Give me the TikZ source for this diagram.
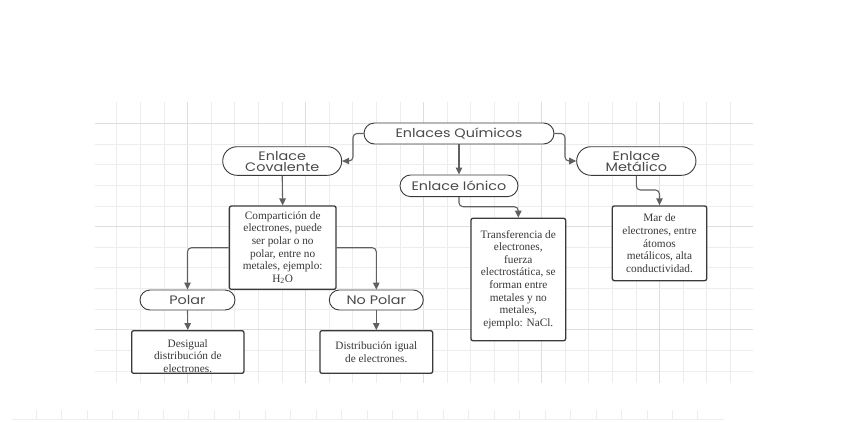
\documentclass[tikz,border=0pt]{standalone}
\usepackage{fontspec}
\setmainfont{Liberation Serif}
\newfontfamily\pillfont[FakeStretch=1.17]{Poppins}
\usetikzlibrary{arrows.meta}
\definecolor{gridc}{HTML}{EDEDED}
\definecolor{gridd}{HTML}{DEDEDE}
\definecolor{linec}{HTML}{606060}
\definecolor{boxc}{HTML}{3A3A3A}
\definecolor{pilltext}{HTML}{4A4A4A}
\definecolor{boxtextc}{HTML}{383838}
\tikzset{
  gridline/.style={gridc, line width=0.6pt},
  gridbold/.style={gridd, line width=0.7pt},
  pill/.style={draw=boxc, line width=0.9pt, fill=white, inner sep=0pt,
     font=\pillfont\fontsize{12.3}{11}\selectfont, text=pilltext, align=center},
  box/.style={draw=boxc, line width=1.3pt, fill=white, rounded corners=2pt, inner sep=0pt,
     font=\fontsize{11.3}{12.6}\selectfont, text=boxtextc, align=center},
  boxtext/.style={inner sep=0pt, font=\fontsize{11.3}{12.6}\selectfont, text=boxtextc, align=center},
  conn/.style={linec, line width=1.1pt, rounded corners=4pt,
     -{Triangle[length=7pt,width=6.5pt]}},
}
\begin{document}
\begin{tikzpicture}[x=1pt,y=-1pt]
\useasboundingbox[fill=white] (0,0) rectangle (862,421);
% grid
\foreach \k in {0,...,26}{
  \pgfmathsetmacro\xx{116.7+23.6*\k}
  \pgfmathtruncatemacro\mm{mod(\k,5)}
  \ifnum\mm=3 \draw[gridbold] (\xx,102) -- (\xx,383);
  \else \draw[gridline] (\xx,102) -- (\xx,383); \fi
}
\foreach \k in {0,...,12}{
  \pgfmathsetmacro\yy{123.3+20.63*\k}
  \pgfmathtruncatemacro\mm{mod(\k,5)}
  \ifnum\mm=0 \draw[gridbold] (95,\yy) -- (753,\yy);
  \else \draw[gridline] (95,\yy) -- (753,\yy); \fi
}
% bottom ruler
\draw[gridline] (12,419) -- (724,419);
\foreach \k in {0,...,26}{
  \pgfmathsetmacro\xx{36+25.45*\k}
  \draw[gridline] (\xx,410) -- (\xx,419);
}
% nodes
\node[pill, minimum width=190pt, minimum height=21pt, rounded corners=10.5pt] (eq) at (459,133.5) {Enlaces Químicos};
\node[pill, minimum width=118pt, minimum height=21.7pt, rounded corners=10.8pt] (ei) at (459,185.8) {Enlace Iónico};
\node[pill, minimum width=119pt, minimum height=28.6pt, rounded corners=14.3pt] (ec) at (282.2,161) {Enlace\\Covalente};
\node[pill, minimum width=119.3pt, minimum height=28.6pt, rounded corners=14.3pt] (em) at (636.3,161) {Enlace\\Metálico};
\node[box, minimum width=106.7pt, minimum height=83.3pt] (comp) at (282.7,247.7)
  {Compartición de\\electrones, puede\\ser polar o no\\polar, entre no\\metales, ejemplo:\\H\textsubscript{2}O};
\node[pill, minimum width=95pt, minimum height=20pt, rounded corners=10pt] (polar) at (187.5,300) {Polar};
\node[pill, minimum width=94pt, minimum height=20pt, rounded corners=10pt] (nopolar) at (376.3,300) {No Polar};
\node[box, minimum width=112.3pt, minimum height=42.6pt] (des) at (187.8,352) {};
\node[boxtext] (destext) at (187.8,356) {Desigual\\distribución de\\electrones.};
\node[box, minimum width=112.7pt, minimum height=42.6pt] (dist) at (376.3,352) {Distribución igual\\de electrones.};
\node[box, minimum width=94.7pt, minimum height=122.4pt] (trans) at (518.3,279.5)
  {Transferencia de\\electrones,\\fuerza\\electrostática, se\\forman entre\\metales y no\\metales,\\ejemplo: NaCl.};
\node[box, minimum width=94.4pt, minimum height=74.7pt] (mar) at (659.5,243.3)
  {Mar de\\electrones, entre\\átomos\\metálicos, alta\\conductividad.};
% connector bends
\coordinate (k1) at (353,161);
\coordinate (k2) at (565,161);
\coordinate (k3) at (459,206.7);
\coordinate (k4) at (636.3,190);
% connectors
\draw[conn] (eq.west) -| (k1) -- (ec.east);
\draw[conn] (eq.east) -| (k2) -- (em.west);
\draw[conn] (eq.south) -- (ei.north);
\draw[conn] (ec.south) -- (comp.north);
\draw[conn] (ei.south) -- (k3) -| (trans.north);
\draw[conn] (em.south) -- (k4) -| (mar.north);
\draw[conn] (comp.west) -| (polar.north);
\draw[conn] (comp.east) -| (nopolar.north);
\draw[conn] (polar.south) -- (des.north);
\draw[conn] (nopolar.south) -- (dist.north);
\end{tikzpicture}
\end{document}
